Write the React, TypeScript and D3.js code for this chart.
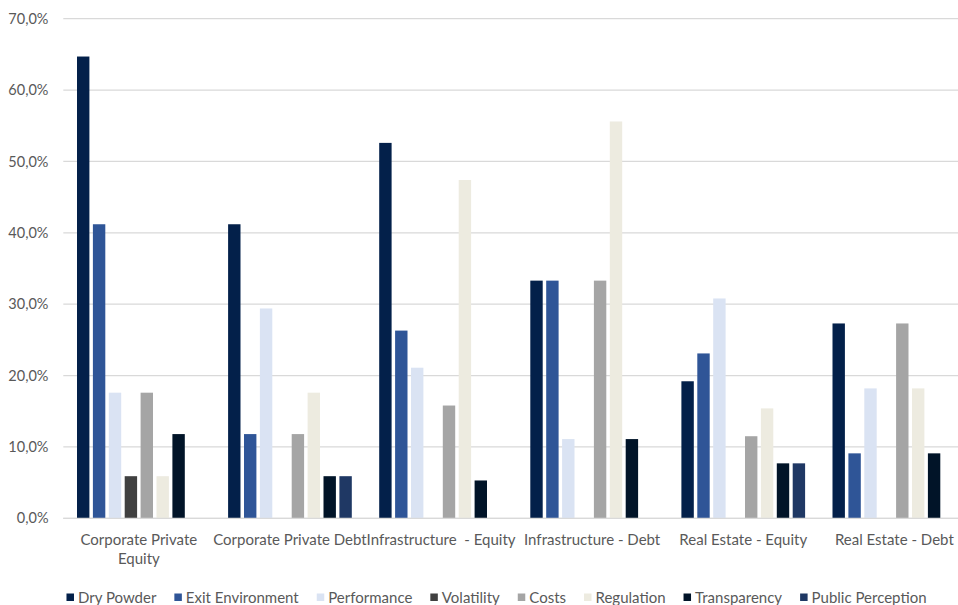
import React, { useEffect, useRef } from "react";
import * as d3 from "d3";

const categories = [
  "Corporate Private Equity",
  "Corporate Private Debt",
  "Infrastructure  - Equity",
  "Infrastructure - Debt",
  "Real Estate - Equity",
  "Real Estate - Debt",
];

const seriesNames = [
  "Dry Powder",
  "Exit Environment",
  "Performance",
  "Volatility",
  "Costs",
  "Regulation",
  "Transparency",
  "Public Perception",
];

const seriesColors = [
  "#03204a",
  "#2f5597",
  "#dae3f3",
  "#404040",
  "#a5a5a5",
  "#edebe0",
  "#011428",
  "#1f3864",
];

// values per series, one per category (percent)
const dryPowder = [64.7, 41.2, 52.6, 33.3, 19.2, 27.3];
const exitEnvironment = [41.2, 11.8, 26.3, 33.3, 23.1, 9.1];
const performance = [17.6, 29.4, 21.1, 11.1, 30.8, 18.2];
const volatility = [5.9, 0, 0, 0, 0, 0];
const costs = [17.6, 11.8, 15.8, 33.3, 11.5, 27.3];
const regulation = [5.9, 17.6, 47.4, 55.6, 15.4, 18.2];
const transparency = [11.8, 5.9, 5.3, 11.1, 7.7, 9.1];
const publicPerception = [0, 5.9, 0, 0, 7.7, 0];

const seriesValues = [
  dryPowder,
  exitEnvironment,
  performance,
  volatility,
  costs,
  regulation,
  transparency,
  publicPerception,
];

const yTicks = [0, 10, 20, 30, 40, 50, 60, 70];

const FONT = "Lato, Carlito, Calibri, 'Noto Sans', sans-serif";

export default function App() {
  const ref = useRef<SVGSVGElement | null>(null);

  useEffect(() => {
    const svg = d3.select(ref.current);
    svg.selectAll("*").remove();

    const left = 63.3;
    const right = 969.9;
    const top = 18.7;
    const bottom = 518.3;

    const x0 = d3.scaleBand<string>().domain(categories).range([left, right]).padding(0);
    const groupW = 123.7;
    const bw = x0.bandwidth();
    const x1 = d3
      .scaleBand<string>()
      .domain(seriesNames)
      .range([(bw - groupW) / 2, (bw + groupW) / 2])
      .paddingInner(0.22)
      .paddingOuter(0);
    const y = d3.scaleLinear().domain([0, 70]).range([bottom, top]);

    // gridlines
    svg
      .append("g")
      .selectAll("line")
      .data(yTicks)
      .join("line")
      .attr("x1", left)
      .attr("x2", right)
      .attr("y1", (d) => y(d))
      .attr("y2", (d) => y(d))
      .attr("stroke", "#d9d9d9")
      .attr("stroke-width", 1.2);

    // y labels
    svg
      .append("g")
      .selectAll("text")
      .data(yTicks)
      .join("text")
      .attr("x", 48.5)
      .attr("y", (d) => y(d))
      .attr("dy", "0.35em")
      .attr("text-anchor", "end")
      .attr("font-family", FONT)
      .attr("font-size", 14.5)
      .attr("fill", "#595959")
      .text((d) => d3.format(".1f")(d).replace(".", ",") + "%");

    // bars
    const groups = svg
      .append("g")
      .selectAll("g")
      .data(categories)
      .join("g")
      .attr("transform", (c) => `translate(${x0(c)},0)`);

    groups
      .selectAll("rect")
      .data((c, ci) =>
        seriesNames.map((s, si) => ({ s, si, v: seriesValues[si][ci] }))
      )
      .join("rect")
      .filter((d) => d.v > 0)
      .attr("x", (d) => x1(d.s)!)
      .attr("width", x1.bandwidth())
      .attr("y", (d) => y(d.v))
      .attr("height", (d) => bottom - y(d.v))
      .attr("fill", (d) => seriesColors[d.si]);

    // baseline
    svg
      .append("line")
      .attr("x1", left)
      .attr("x2", right)
      .attr("y1", bottom)
      .attr("y2", bottom)
      .attr("stroke", "#d9d9d9")
      .attr("stroke-width", 1.2);

    // category labels with wrapping
    const maxW = 157;
    const catSize = 15;
    categories.forEach((c) => {
      const cx = x0(c)! + bw / 2;
      const t = svg
        .append("text")
        .attr("text-anchor", "middle")
        .attr("font-family", FONT)
        .attr("font-size", catSize)
        .attr("fill", "#595959");
      const words = c.split(" ");
      const lines: string[] = [];
      let cur = "";
      const probe = svg
        .append("text")
        .attr("font-family", FONT)
        .attr("font-size", catSize)
        .style("white-space", "pre");
      words.forEach((w) => {
        const test = cur === "" ? w : cur + " " + w;
        probe.text(test);
        const len = (probe.node() as SVGTextElement).getComputedTextLength();
        if (len > maxW && cur !== "") {
          lines.push(cur);
          cur = w;
        } else {
          cur = test;
        }
      });
      lines.push(cur);
      probe.remove();
      lines.forEach((ln, i) => {
        t.append("tspan")
          .attr("x", cx)
          .attr("y", 545 + i * 18.5)
          .style("white-space", "pre")
          .text(ln);
      });
    });

    // legend
    const legend = svg.append("g");
    const items = seriesNames.map((name, i) => {
      const g = legend.append("g");
      g.append("rect")
        .attr("x", 0)
        .attr("y", 593.5)
        .attr("width", 7.5)
        .attr("height", 7.5)
        .attr("fill", seriesColors[i]);
      const tx = g
        .append("text")
        .attr("x", 11.5)
        .attr("y", 602.5)
        .attr("font-family", FONT)
        .attr("font-size", 15)
        .attr("fill", "#595959")
        .text(name);
      const w = (tx.node() as SVGTextElement).getComputedTextLength();
      return { g, w: 11.5 + w };
    });
    const gap = 18;
    const total = d3.sum(items, (d) => d.w) + gap * (items.length - 1);
    let xPos = 496.5 - total / 2;
    items.forEach((it) => {
      it.g.attr("transform", `translate(${xPos},0)`);
      xPos += it.w + gap;
    });
  }, []);

  return (
    <svg
      ref={ref}
      width={958}
      height={605}
      style={{ position: "absolute", left: 0, top: 0, background: "#fff" }}
    />
  );
}
